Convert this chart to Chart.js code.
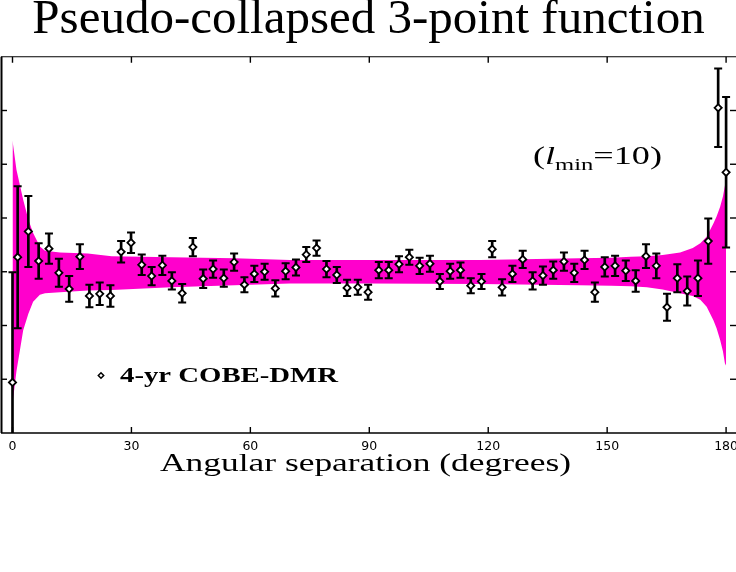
<!DOCTYPE html>
<html>
<head>
<meta charset="utf-8">
<script src="https://cdn.jsdelivr.net/npm/chart.js@4.4.1/dist/chart.umd.min.js"></script>
<style>
html,body{margin:0;padding:0;background:#fff;overflow:hidden}
#wrap{width:736px;height:572px;position:relative;overflow:hidden}
canvas{display:block}
</style>
</head>
<body>
<div id="wrap"><canvas id="c" width="736" height="572"></canvas></div>
<script>
// ---- data ----
const angles = [0, 1.3, 4.0, 6.6, 9.2, 11.7, 14.3, 17.0, 19.4, 22.0, 24.7, 27.4, 29.9, 32.6, 35.1, 37.8, 40.2, 42.8, 45.5, 48.1,
  50.6, 53.3, 55.9, 58.5, 61.0, 63.6, 66.3, 68.9, 71.5, 74.1, 76.7, 79.2, 81.8, 84.4, 87.1, 89.7, 92.4, 94.9, 97.5, 100.1,
  102.7, 105.3, 107.8, 110.4, 113.0, 115.6, 118.3, 121.0, 123.5, 126.1, 128.7, 131.2, 133.8, 136.4, 139.1, 141.7, 144.3, 146.9, 149.4, 152.0,
  154.7, 157.2, 159.8, 162.4, 165.1, 167.7, 170.2, 172.9, 175.5, 178.0, 180.0];
const values = [-2.06, 0.27, 0.75, 0.20, 0.43, -0.02, -0.32, 0.28, -0.45, -0.41, -0.45, 0.37, 0.54, 0.13, -0.08, 0.12, -0.17, -0.40, 0.46, -0.13,
  0.05, -0.12, 0.18, -0.24, -0.04, 0.00, -0.31, 0.01, 0.08, 0.32, 0.44, 0.05, -0.06, -0.30, -0.29, -0.38, 0.03, 0.03, 0.14, 0.27,
  0.11, 0.15, -0.18, 0.01, 0.03, -0.26, -0.18, 0.42, -0.29, -0.04, 0.23, -0.17, -0.07, 0.03, 0.19, -0.02, 0.22, -0.38, 0.09, 0.11,
  0.02, -0.17, 0.29, 0.11, -0.66, -0.12, -0.36, -0.12, 0.57, 3.05, 1.85];
const errors = [2.05, 1.32, 0.66, 0.33, 0.28, 0.26, 0.24, 0.23, 0.21, 0.21, 0.20, 0.20, 0.19, 0.19, 0.17, 0.18, 0.16, 0.17, 0.17, 0.17,
  0.16, 0.16, 0.16, 0.14, 0.15, 0.15, 0.15, 0.15, 0.15, 0.14, 0.14, 0.15, 0.15, 0.15, 0.14, 0.14, 0.15, 0.15, 0.15, 0.14,
  0.15, 0.15, 0.14, 0.14, 0.14, 0.14, 0.14, 0.15, 0.15, 0.15, 0.16, 0.16, 0.17, 0.16, 0.17, 0.17, 0.17, 0.18, 0.18, 0.19,
  0.19, 0.20, 0.22, 0.23, 0.25, 0.26, 0.27, 0.33, 0.42, 0.73, 1.40];
const bandAngles = [0, 1.0, 2.7, 4.0, 5.2, 6.9, 8.2, 12, 19, 25, 40, 56, 70, 90, 118, 143, 151, 156, 160, 164,
  168.4, 171.6, 173.5, 175.1, 176.8, 177.6, 178.5, 179.2, 179.7, 180];
const bandUpper = [2.44, 1.90, 1.34, 0.97, 0.72, 0.47, 0.39, 0.36, 0.34, 0.29, 0.27, 0.25, 0.22, 0.22, 0.22, 0.25, 0.26, 0.28, 0.29, 0.31,
  0.36, 0.44, 0.53, 0.65, 0.90, 1.03, 1.21, 1.40, 1.60, 1.77];
const bandLower = [-2.45, -1.85, -1.09, -0.78, -0.56, -0.43, -0.40, -0.38, -0.35, -0.34, -0.29, -0.25, -0.22, -0.22, -0.23, -0.25, -0.26, -0.27, -0.29, -0.33,
  -0.40, -0.45, -0.52, -0.65, -0.90, -1.05, -1.27, -1.48, -1.70, -1.75];
const xTicks = [0, 30, 60, 90, 120, 150, 180];
const yTicks = [-2, -1, 0, 1, 2, 3];
const titleText = 'Pseudo-collapsed 3-point function';
const xTitleText = 'Angular separation (degrees)';
const legendText = '4-yr COBE-DMR';

// ---- helpers ----
function stretchedText(ctx, text, font, left, baseline, width) {
  ctx.save();
  ctx.font = font;
  const w = ctx.measureText(text).width;
  ctx.translate(left, baseline);
  ctx.scale(width / w, 1);
  ctx.textAlign = 'left';
  ctx.textBaseline = 'alphabetic';
  ctx.fillStyle = '#000';
  ctx.fillText(text, 0, 0);
  ctx.restore();
}

const decor = {
  id: 'decor',
  afterDraw(chart) {
    const ctx = chart.ctx, a = chart.chartArea, xs = chart.scales.x, ys = chart.scales.y;
    const seg = (x1, y1, x2, y2) => { ctx.beginPath(); ctx.moveTo(x1, y1); ctx.lineTo(x2, y2); ctx.stroke(); };
    ctx.save();
    ctx.strokeStyle = '#000';
    ctx.lineWidth = 2;
    seg(a.left + 0.5, a.top, a.left + 0.5, a.bottom);
    ctx.lineWidth = 1.6;
    seg(a.left, a.bottom, a.right, a.bottom);
    ctx.lineWidth = 1.2;
    seg(a.left, a.top, a.right, a.top);
    ctx.lineWidth = 1.4;
    xTicks.forEach(v => {
      const px = xs.getPixelForValue(v);
      seg(px, a.bottom, px, a.bottom - 6);
      seg(px, a.top, px, a.top + 6);
    });
    yTicks.forEach(v => {
      const py = ys.getPixelForValue(v);
      seg(a.left, py, a.left + 6, py);
      seg(a.right, py, a.right - 6, py);
    });
    // axis title (stretched serif as in reference)
    stretchedText(ctx, xTitleText, '26px "Liberation Serif"', 160, 470.5, 411);
    // legend
    ctx.lineWidth = 1.5;
    ctx.fillStyle = '#fff';
    const lx = 101, ly = 375.5, r = 2.7;
    ctx.beginPath();
    ctx.moveTo(lx - r, ly); ctx.lineTo(lx, ly - r); ctx.lineTo(lx + r, ly); ctx.lineTo(lx, ly + r); ctx.closePath();
    ctx.fill(); ctx.stroke();
    stretchedText(ctx, legendText, 'bold 20px "Liberation Serif"', 120, 381.5, 218);
    // annotation (l_min=10)
    const parts = [
      {t: '(', f: '25px "Liberation Serif"', dy: 0},
      {t: 'l', f: 'italic 25px "Liberation Serif"', dy: 0},
      {t: 'min', f: '17px "Liberation Serif"', dy: 6},
      {t: '=10)', f: '25px "Liberation Serif"', dy: 0}
    ];
    let total = 0;
    parts.forEach(p => { ctx.font = p.f; p.w = ctx.measureText(p.t).width; total += p.w; });
    const s = 129 / total;
    ctx.save();
    ctx.translate(533, 163.5);
    ctx.scale(s, 1);
    ctx.fillStyle = '#000';
    ctx.textBaseline = 'alphabetic';
    ctx.textAlign = 'left';
    let cx = 0;
    parts.forEach(p => { ctx.font = p.f; ctx.fillText(p.t, cx, p.dy); cx += p.w; });
    ctx.restore();
    ctx.restore();
  }
};

const pts = (xa, ya) => xa.map((v, i) => ({x: v, y: ya[i]}));

new Chart(document.getElementById('c'), {
  type: 'scatter',
  data: {
    datasets: [
      {type: 'line', data: pts(bandAngles, bandUpper), borderColor: 'rgba(0,0,0,0)', borderWidth: 0, pointRadius: 0, fill: false, order: 10},
      {type: 'line', data: pts(bandAngles, bandLower), borderColor: 'rgba(0,0,0,0)', borderWidth: 0, pointRadius: 0, fill: '-1', backgroundColor: '#ff00cc', order: 10},
      {type: 'bar', data: angles.map((v, i) => ({x: v, y: [values[i] - errors[i], values[i] + errors[i]]})), backgroundColor: '#000', borderWidth: 0, barThickness: 2, order: 3},
      {type: 'scatter', data: angles.map((v, i) => ({x: v, y: values[i] + errors[i]})), pointStyle: 'line', pointRadius: 4, borderColor: '#000', borderWidth: 2, order: 2},
      {type: 'scatter', data: angles.map((v, i) => ({x: v, y: values[i] - errors[i]})), pointStyle: 'line', pointRadius: 4, borderColor: '#000', borderWidth: 2, order: 2},
      {type: 'scatter', data: pts(angles, values), pointStyle: 'rectRot', pointRadius: 3.6, backgroundColor: '#fff', borderColor: '#000', borderWidth: 1.8, order: 1}
    ]
  },
  options: {
    responsive: false,
    animation: false,
    devicePixelRatio: 1,
    events: [],
    layout: {autoPadding: false, padding: {left: 1, right: 0, top: 0, bottom: 109}},
    plugins: {
      legend: {display: false},
      tooltip: {enabled: false},
      title: {
        display: true, text: titleText, color: '#000',
        font: {family: '"Liberation Serif"', size: 49, weight: 'normal', lineHeight: 0.75},
        padding: {top: 2, bottom: 18}
      }
    },
    scales: {
      x: {
        type: 'linear', min: -2.9, max: 182.5, offset: false,
        afterBuildTicks: sc => { sc.ticks = xTicks.map(v => ({value: v})); },
        afterFit: sc => { sc.height = 30; sc.paddingLeft = 0; sc.paddingRight = 0; },
        grid: {display: false, drawTicks: false},
        border: {display: false},
        ticks: {color: '#000', padding: 6, autoSkip: false, maxRotation: 0,
                font: {family: '"DejaVu Sans"', size: 12.5}}
      },
      y: {
        type: 'linear', min: -3, max: 4, display: false
      }
    }
  },
  plugins: [decor]
});
</script>
</body>
</html>
